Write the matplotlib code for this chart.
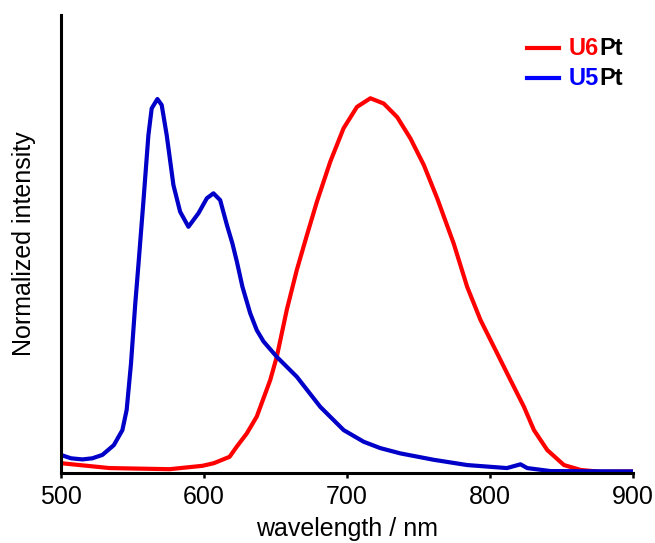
import matplotlib.pyplot as plt
from matplotlib.lines import Line2D
from matplotlib.offsetbox import AnchoredOffsetbox, DrawingArea, HPacker, TextArea, VPacker

plt.rcParams['font.family'] = ['Liberation Sans', 'DejaVu Sans']

# U5Pt emission (wavelength nm, normalized intensity)
u5_wl = [500, 507, 515, 522, 529, 537, 543, 546, 549, 552, 554.2, 557.7, 561.2, 563.5,
         567.5, 570.5, 574, 578.7, 583.4, 589.2, 596.2, 602.1, 606.7, 611.4, 616.1,
         620, 623.1, 627, 632.4, 637, 641.7, 651, 665, 681.4, 697.8, 711.8, 723.5,
         737.5, 760.8, 784.2, 812, 821.5, 826.2, 842.5, 900]
u5_int = [0.048, 0.039, 0.036, 0.039, 0.048, 0.074, 0.114, 0.168, 0.290, 0.450, 0.553,
          0.722, 0.899, 0.970, 0.995, 0.979, 0.899, 0.766, 0.695, 0.655, 0.691, 0.731,
          0.744, 0.726, 0.660, 0.610, 0.562, 0.495, 0.425, 0.380, 0.350, 0.309, 0.256,
          0.176, 0.114, 0.083, 0.066, 0.052, 0.035, 0.021, 0.013, 0.023, 0.013, 0.005,
          0.004]

# U6Pt emission
u6_wl = [500, 534, 576, 599, 607, 618, 623, 630, 637, 646.4, 651, 658, 665, 672.1,
         679.1, 688.4, 697.7, 707.1, 716.5, 725.8, 735.2, 744.5, 753.9, 763.2, 774.8,
         784.2, 793.5, 805.2, 814.5, 823.9, 830.9, 840.2, 851.9, 863.6, 877.6, 900]
u6_int = [0.026, 0.013, 0.010, 0.019, 0.026, 0.043, 0.070, 0.105, 0.150, 0.247, 0.309,
          0.434, 0.540, 0.633, 0.722, 0.828, 0.917, 0.974, 0.997, 0.983, 0.947, 0.890,
          0.819, 0.731, 0.610, 0.495, 0.407, 0.318, 0.247, 0.176, 0.114, 0.061, 0.021,
          0.008, 0.003, 0.004]

x_ticks = [500, 600, 700, 800, 900]

red = '#ff0000'
blue = '#0000c8'

fig = plt.figure(figsize=(6.55, 5.43), dpi=100)
ax = fig.add_axes([0.093, 0.129, 0.873, 0.843])

ax.plot(u6_wl, u6_int, color=red, lw=3, solid_joinstyle='round')
ax.plot(u5_wl, u5_int, color=blue, lw=3, solid_joinstyle='round')

ax.set_xlim(500, 900)
ax.set_ylim(0, 1.218)
ax.set_xticks(x_ticks)
ax.set_yticks([])
ax.tick_params(axis='x', labelsize=18, length=3.5, width=1.8, pad=5)
for side in ['top', 'right']:
    ax.spines[side].set_visible(False)
for side in ['left', 'bottom']:
    ax.spines[side].set_linewidth(2.2)
ax.set_xlabel('wavelength / nm', fontsize=18, labelpad=6)
ax.set_ylabel('Normalized intensity', fontsize=18, labelpad=18)

# legend with two-colour labels
def legend_row(color, name):
    da = DrawingArea(23, 10)
    da.add_artist(Line2D([0, 23], [5, 5], color=color, lw=3))
    t1 = TextArea(name, textprops=dict(color=color, fontsize=17, fontweight='bold'))
    t2 = TextArea('Pt', textprops=dict(color='black', fontsize=17, fontweight='bold'))
    return HPacker(children=[da, HPacker(children=[t1, t2], pad=0, sep=0)],
                   align='center', pad=0, sep=7)

box = VPacker(children=[legend_row(red, 'U6'), legend_row('#0000ff', 'U5')],
              align='left', pad=0, sep=5)
anchored = AnchoredOffsetbox(loc='upper right', child=box, frameon=False,
                             bbox_to_anchor=(0.992, 0.965),
                             bbox_transform=ax.transAxes, borderpad=0)
ax.add_artist(anchored)

fig.savefig('out.png', dpi=100)
